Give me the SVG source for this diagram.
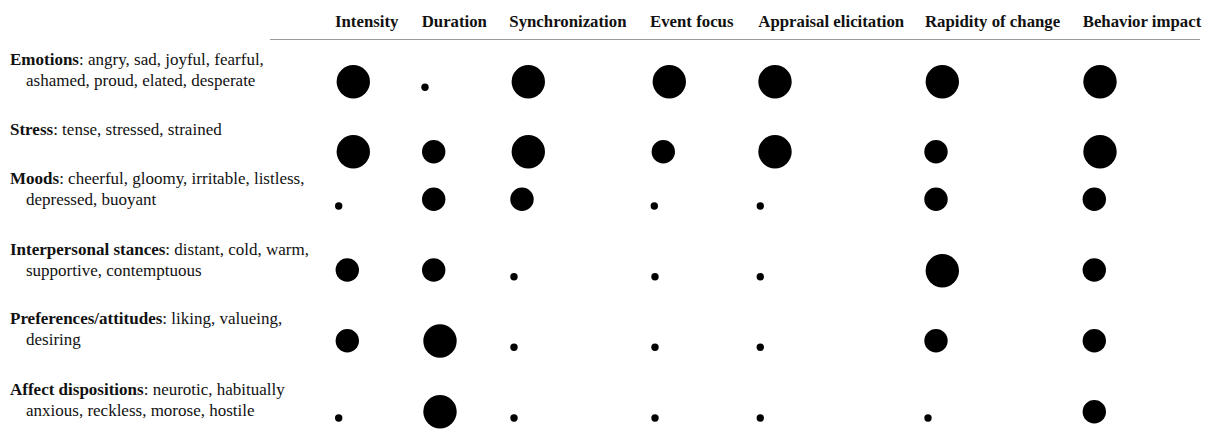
<svg xmlns="http://www.w3.org/2000/svg" width="1208" height="430" viewBox="0 0 1208 430">
  <style>
    text { font-family: "Liberation Serif", "Times New Roman", serif; fill: #111; }
    .hd { font-size: 16.8px; font-weight: bold; }
    .lb { font-size: 17px; }
    .lb tspan.k { font-weight: bold; }
    .rule { stroke: #9a9a9a; stroke-width: 1.2; }
    circle { fill: #000; }
  </style>
  <rect width="1208" height="430" fill="#fff"/>

  <!-- column headings -->
  <g id="header">
    <text class="hd" x="335" y="27">Intensity</text>
    <text class="hd" x="421.7" y="27">Duration</text>
    <text class="hd" x="509.3" y="27">Synchronization</text>
    <text class="hd" x="650" y="27">Event focus</text>
    <text class="hd" x="758.3" y="27">Appraisal elicitation</text>
    <text class="hd" x="925" y="27">Rapidity of change</text>
    <text class="hd" x="1082.7" y="27">Behavior impact</text>
    <line class="rule" x1="270" y1="39.5" x2="1200" y2="39.5"/>
  </g>

  <!-- row: emotions -->
  <g id="row-emotions">
    <text class="lb" x="10" y="65"><tspan class="k">Emotions</tspan>: angry, sad, joyful, fearful,</text>
    <text class="lb" x="26" y="86">ashamed, proud, elated, desperate</text>
    <circle cx="353.3" cy="81.7" r="16.7"/>
    <circle cx="425" cy="87.3" r="3.7"/>
    <circle cx="528.3" cy="81.7" r="16.7"/>
    <circle cx="669.3" cy="81.7" r="16.7"/>
    <circle cx="775" cy="81.7" r="16.7"/>
    <circle cx="942.3" cy="81.7" r="16.7"/>
    <circle cx="1100" cy="81.7" r="16.7"/>
  </g>

  <!-- row: stress -->
  <g id="row-stress">
    <text class="lb" x="10" y="135"><tspan class="k">Stress</tspan>: tense, stressed, strained</text>
    <circle cx="353.3" cy="151.7" r="16.7"/>
    <circle cx="433.7" cy="151.7" r="11.7"/>
    <circle cx="528.3" cy="151.7" r="16.7"/>
    <circle cx="663.3" cy="151.7" r="11.7"/>
    <circle cx="775" cy="151.7" r="16.7"/>
    <circle cx="936" cy="151.7" r="11.7"/>
    <circle cx="1100" cy="151.7" r="16.7"/>
  </g>

  <!-- row: moods -->
  <g id="row-moods">
    <text class="lb" x="10" y="184"><tspan class="k">Moods</tspan>: cheerful, gloomy, irritable, listless,</text>
    <text class="lb" x="26" y="205">depressed, buoyant</text>
    <circle cx="338.7" cy="206" r="3.7"/>
    <circle cx="433.7" cy="199.3" r="11.7"/>
    <circle cx="522" cy="199.3" r="11.7"/>
    <circle cx="654.3" cy="206" r="3.7"/>
    <circle cx="760.3" cy="206" r="3.7"/>
    <circle cx="936" cy="199.3" r="11.7"/>
    <circle cx="1094.3" cy="199.3" r="11.7"/>
  </g>

  <!-- row: interpersonal stances -->
  <g id="row-interpersonal">
    <text class="lb" x="10" y="255"><tspan class="k">Interpersonal stances</tspan>: distant, cold, warm,</text>
    <text class="lb" x="26" y="276">supportive, contemptuous</text>
    <circle cx="347.3" cy="270" r="11.7"/>
    <circle cx="433.7" cy="270" r="11.7"/>
    <circle cx="514" cy="276.7" r="3.7"/>
    <circle cx="655" cy="276.7" r="3.7"/>
    <circle cx="760.3" cy="276.7" r="3.7"/>
    <circle cx="942.3" cy="270.7" r="16.7"/>
    <circle cx="1094.3" cy="270" r="11.7"/>
  </g>

  <!-- row: preferences / attitudes -->
  <g id="row-preferences">
    <text class="lb" x="10" y="324"><tspan class="k">Preferences/attitudes</tspan>: liking, valueing,</text>
    <text class="lb" x="26" y="345">desiring</text>
    <circle cx="347.3" cy="340.7" r="11.7"/>
    <circle cx="440" cy="341" r="16.7"/>
    <circle cx="514" cy="347.3" r="3.7"/>
    <circle cx="655" cy="347.3" r="3.7"/>
    <circle cx="760.3" cy="347.3" r="3.7"/>
    <circle cx="936" cy="340.7" r="11.7"/>
    <circle cx="1094.3" cy="340.7" r="11.7"/>
  </g>

  <!-- row: affect dispositions -->
  <g id="row-dispositions">
    <text class="lb" x="10" y="395"><tspan class="k">Affect dispositions</tspan>: neurotic, habitually</text>
    <text class="lb" x="26" y="416">anxious, reckless, morose, hostile</text>
    <circle cx="338.7" cy="418" r="3.7"/>
    <circle cx="440" cy="411.7" r="16.7"/>
    <circle cx="514" cy="418" r="3.7"/>
    <circle cx="655" cy="418" r="3.7"/>
    <circle cx="760.3" cy="418" r="3.7"/>
    <circle cx="928" cy="418" r="3.7"/>
    <circle cx="1094.3" cy="411.7" r="11.7"/>
  </g>
</svg>
